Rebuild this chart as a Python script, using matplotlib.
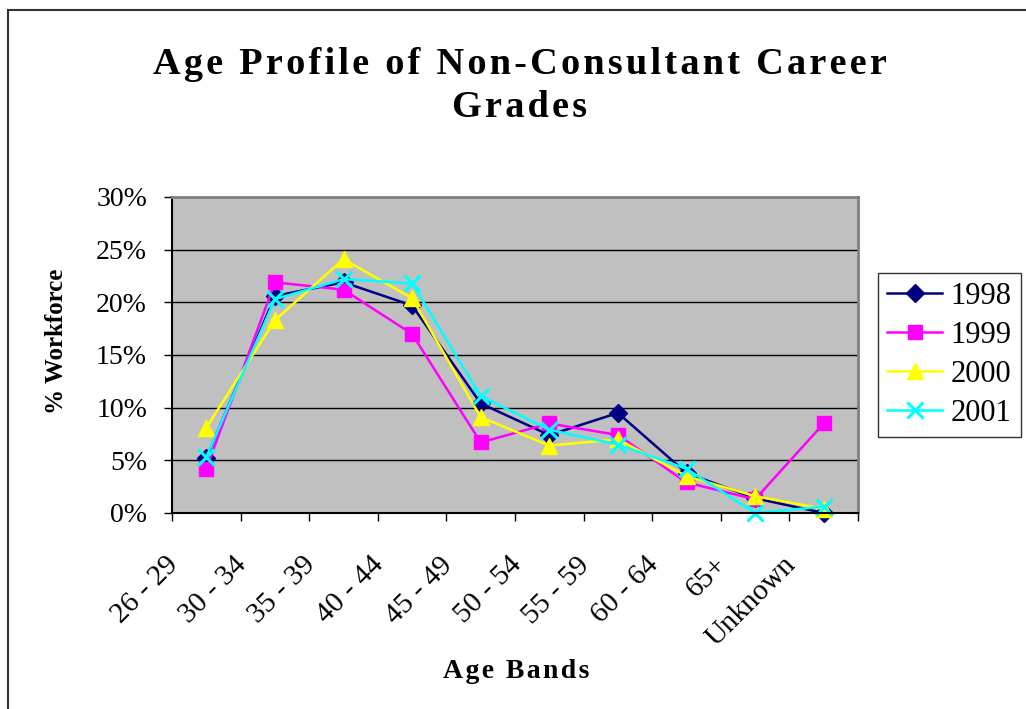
import numpy as np
import matplotlib.pyplot as plt
from matplotlib.patches import Rectangle
from matplotlib.transforms import ScaledTranslation
from matplotlib.ticker import FuncFormatter

# ── Data ──────────────────────────────────────────────────────────────────────
age_bands = ["26 - 29", "30 - 34", "35 - 39", "40 - 44", "45 - 49",
             "50 - 54", "55 - 59", "60 - 64", "65+", "Unknown"]
pct_1998 = [5.2, 20.6, 21.9, 19.7, 10.4, 7.4, 9.5, 3.8, 1.4, 0.0]
pct_1999 = [4.2, 21.9, 21.2, 17.0, 6.7, 8.5, 7.4, 2.9, 1.3, 8.5]
pct_2000 = [8.1, 18.3, 24.1, 20.4, 9.1, 6.4, 7.0, 3.5, 1.6, 0.4]
pct_2001 = [5.3, 20.3, 22.2, 21.8, 11.1, 7.9, 6.5, 4.2, 0.0, 0.6]
years = ["1998", "1999", "2000", "2001"]

SERIF = ["Liberation Serif", "DejaVu Serif"]
plt.rcParams["font.family"] = SERIF


def spaced(s):
    # Excel-style letter spacing on the bold titles
    return "\u200a".join(s)


fig = plt.figure(figsize=(10.26, 7.09), dpi=100)
ax = fig.add_axes([172 / 1026, 1 - 513 / 709, 686 / 1026, 316 / 709])

styles = [
    dict(color="#000080", marker="D", ms=9),
    dict(color="#FF00FF", marker="s", ms=10),
    dict(color="#FFFF00", marker="^", ms=11),
    dict(color="#00FFFF", marker="x", ms=11, mew=2.2),
]
x = np.arange(len(age_bands))
for vals, yr, st in zip([pct_1998, pct_1999, pct_2000, pct_2001], years, styles):
    ax.plot(x, vals, lw=1.8, label=yr, clip_on=False, **st)

ax.set_facecolor("#C0C0C0")
ax.set_xlim(-0.5, len(age_bands) - 0.5)
ax.set_ylim(0, 30)
ax.set_yticks(np.arange(0, 31, 5))
ax.yaxis.set_major_formatter(FuncFormatter(lambda v, p: f"{v:.0f}%"))
ax.grid(axis="y", color="black", lw=1)
ax.set_axisbelow(True)

ax.set_xticks(x)
ax.set_xticklabels(age_bands, rotation=45, ha="right", va="top")
ax.set_xticks(np.arange(-0.5, len(age_bands)), minor=True)
ax.tick_params(axis="x", which="major", length=0, pad=28, labelsize=21)
ax.tick_params(axis="x", which="minor", length=6, width=1, direction="out", color="black")
ax.tick_params(axis="y", length=6, width=1, direction="out", labelsize=20, pad=12)
off = ScaledTranslation(-23 / 100, 0, fig.dpi_scale_trans)
for lab in ax.get_xticklabels():
    lab.set_transform(lab.get_transform() + off)

for s in ["left", "bottom"]:
    ax.spines[s].set_color("black")
    ax.spines[s].set_linewidth(1.5)
for s in ["top", "right"]:
    ax.spines[s].set_color("#808080")
    ax.spines[s].set_linewidth(2)

fig.text(57 / 1026, 1 - 341 / 709, "% Workforce", fontsize=18, fontweight="bold",
         rotation=90, ha="center", va="center")
fig.text(516 / 1026, 1 - 672 / 709, spaced("Age Bands"), fontsize=20,
         fontweight="bold", ha="center", va="center")
fig.text(520 / 1026, 1 - 86 / 709,
         spaced("Age Profile of Non-Consultant Career") + "\n" + spaced("Grades"),
         fontsize=27.5, fontweight="bold", ha="center", va="center", linespacing=1.3)

leg = fig.legend(loc="upper left", bbox_to_anchor=(878 / 1026, 1 - 273 / 709),
                 fontsize=22, frameon=True, fancybox=False, handlelength=1.8,
                 labelspacing=0.32, borderpad=0.3, handletextpad=0.28,
                 borderaxespad=0)
leg.get_frame().set_edgecolor("black")
leg.get_frame().set_linewidth(1)

# chart-area border
fig.patches.append(Rectangle((8 / 1026, -0.05), 1.1, 1 - 10 / 709 + 0.05,
                             transform=fig.transFigure, fill=False,
                             edgecolor="#333333", lw=1.5))

fig.savefig("out.png", dpi=100)
